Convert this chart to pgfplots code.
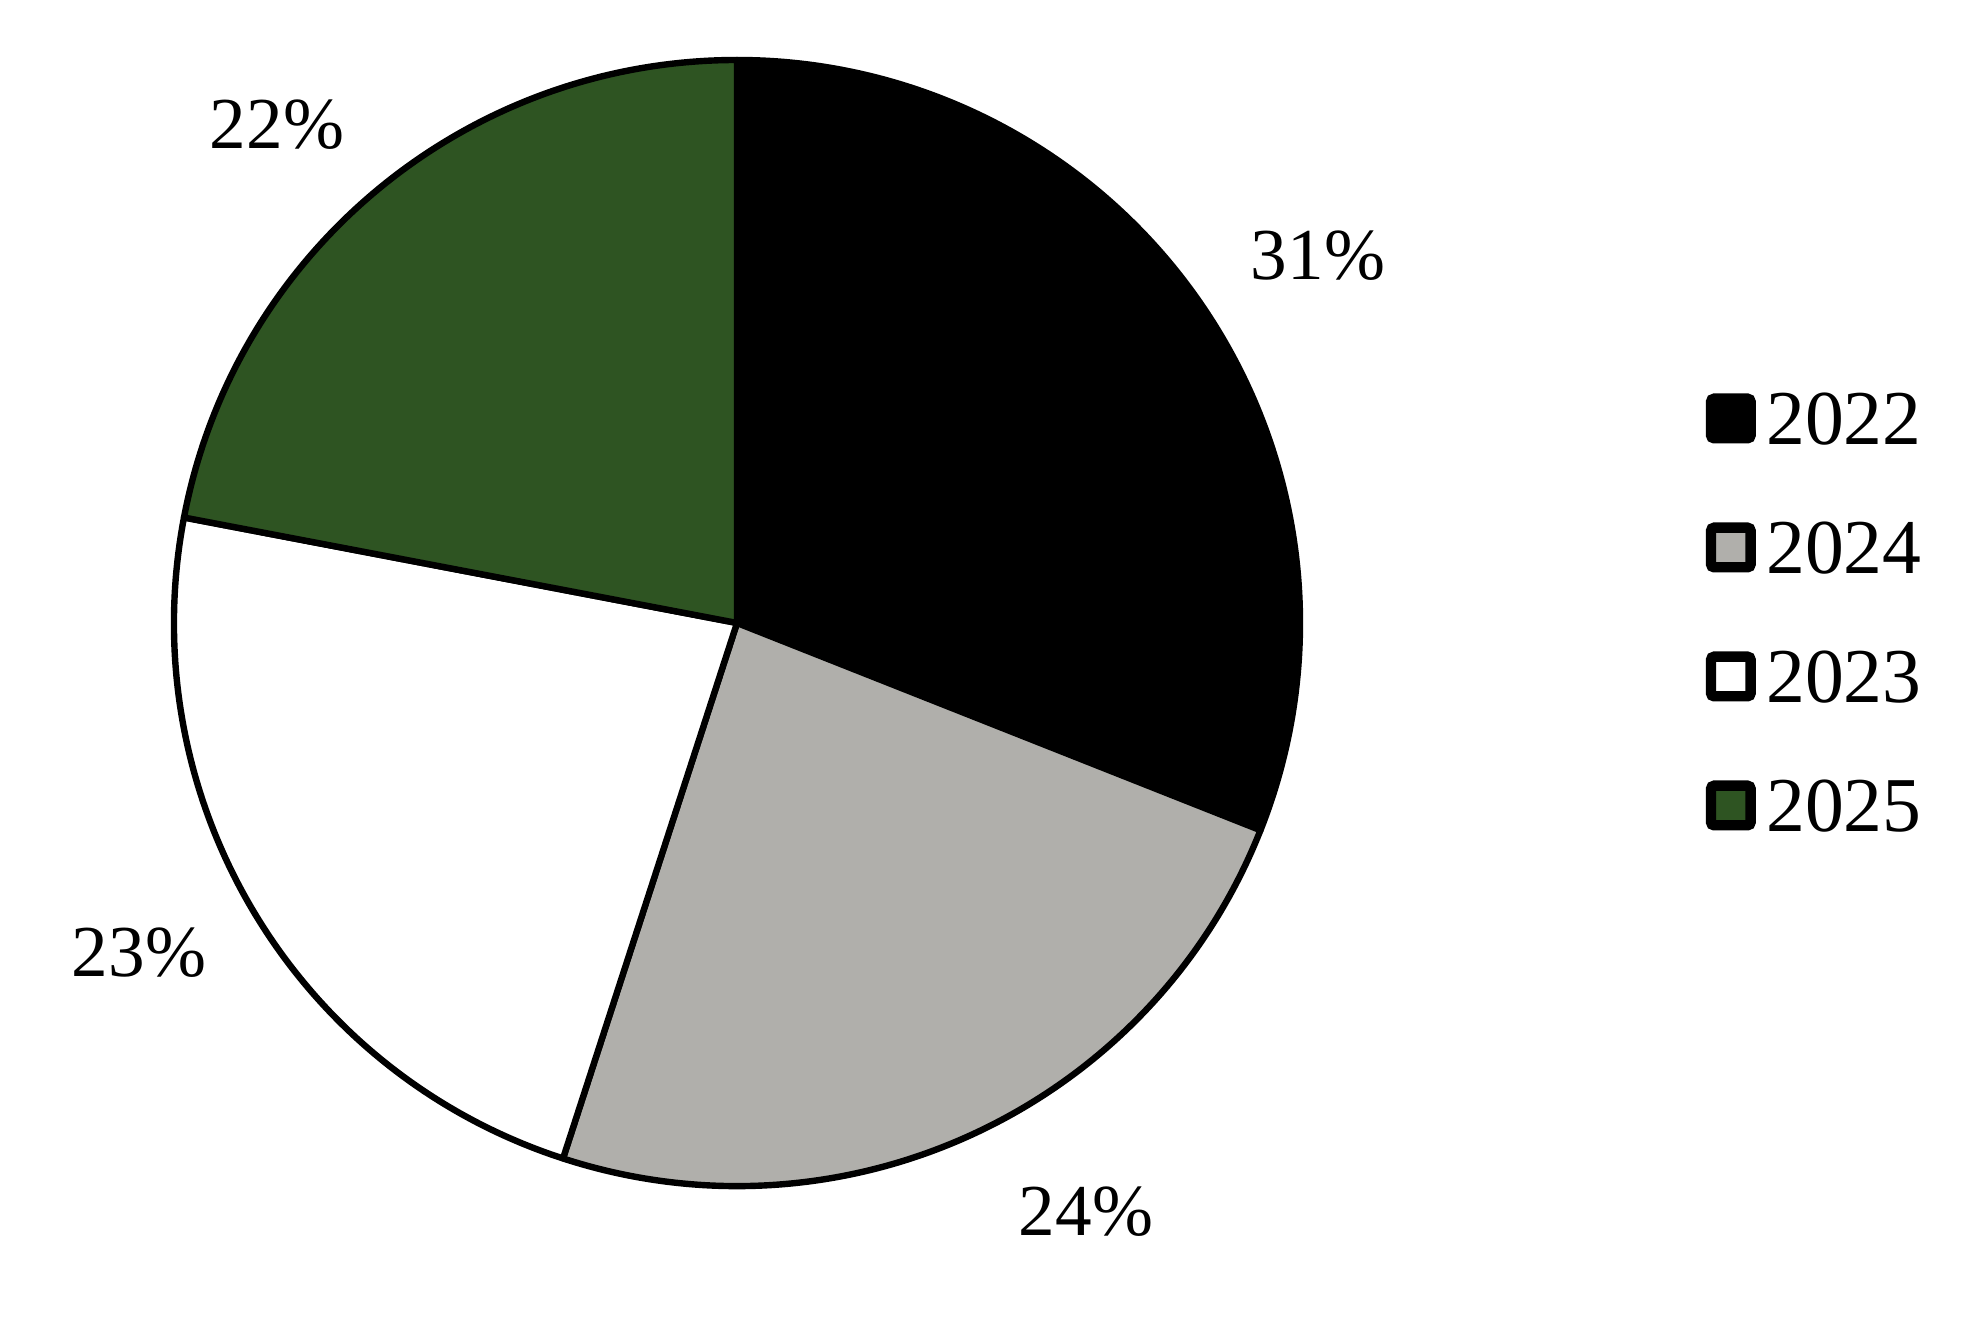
\documentclass[border=0pt]{standalone}
\usepackage{pgfplots}
\usepackage{pgfplotstable}
\pgfplotsset{compat=1.18}
\usepackage{fontspec}
\setmainfont{Liberation Serif}

\definecolor{piegray}{HTML}{B0AFAB}
\definecolor{piegreen}{HTML}{2E5422}

% slices clockwise from the top; lx, ly = label centre (axis units = px)
\pgfplotstableread{
year value color    lx   ly
2022 31    black    1318 1070
2024 24    piegray  1086 114
2023 23    white    139  373
2025 22    piegreen 277  1201
}\piedata

\tikzset{lbl/.style={font=\fontsize{18.3}{21}\selectfont, inner sep=0pt}}

\begin{document}
\begin{tikzpicture}
\begin{axis}[
    hide axis,
    scale only axis,
    width=495.75pt, height=331.5pt,
    xmin=0, xmax=1983, ymin=0, ymax=1326,
    clip=false,
    legend cell align=left,
    legend image code/.code={
        \draw[#1, line width=2.6pt, rounded corners=0.8pt] (0pt,-4.95pt) rectangle (9.9pt,4.95pt);
    },
    legend style={
        at={(axis cs:1705,714)}, anchor=west,
        draw=none, fill=none, inner sep=0pt,
        font=\fontsize{19.4}{22}\selectfont,
        nodes={inner sep=0pt, text height=13.1pt, text depth=0pt},
        row sep=19.15pt, column sep=2.6pt,
    },
]
\path (axis cs:0,0) rectangle (axis cs:1983,1326);

\def\startangle{90}
\pgfplotsforeachungrouped \i in {0,...,3}{
    \pgfplotstablegetelem{\i}{value}\of\piedata \let\v\pgfplotsretval
    \pgfplotstablegetelem{\i}{color}\of\piedata \let\c\pgfplotsretval
    \pgfplotstablegetelem{\i}{lx}\of\piedata \let\lx\pgfplotsretval
    \pgfplotstablegetelem{\i}{ly}\of\piedata \let\ly\pgfplotsretval
    \pgfmathsetmacro\endangle{\startangle - 3.6*\v}
    \edef\temp{%
        \noexpand\filldraw[fill=\c, draw=black, line width=1.6pt, line join=round]
            (axis cs:737,703) -- ([shift={(\startangle:140.75pt)}]axis cs:737,703)
            arc[start angle=\startangle, end angle=\endangle, radius=140.75pt] -- cycle;
        \noexpand\node[lbl] at (axis cs:\lx,\ly) {\v\%};
    }%
    \temp
    \global\let\startangle\endangle
}

\addlegendimage{fill=black, draw=black}
\addlegendentry{2022}
\addlegendimage{fill=piegray, draw=black}
\addlegendentry{2024}
\addlegendimage{fill=white, draw=black}
\addlegendentry{2023}
\addlegendimage{fill=piegreen, draw=black}
\addlegendentry{2025}
\end{axis}
\end{tikzpicture}
\end{document}
